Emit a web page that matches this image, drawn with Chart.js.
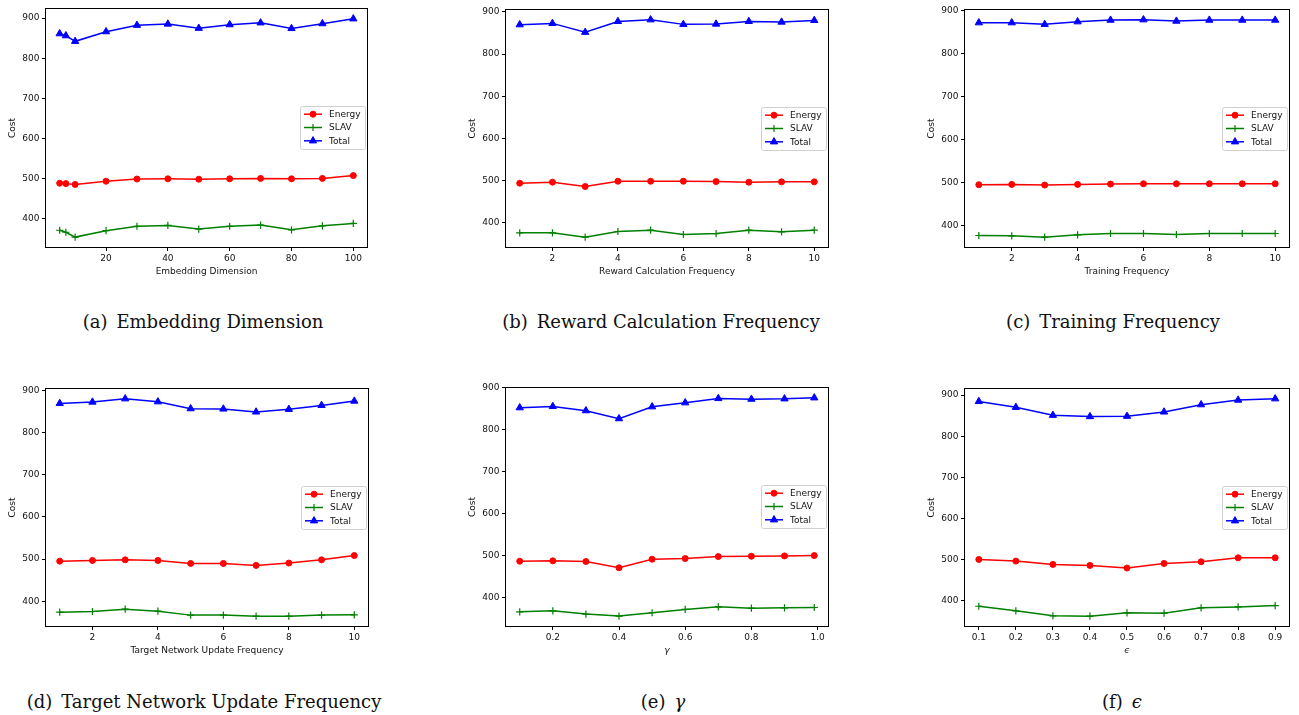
<!DOCTYPE html>
<html><head><meta charset="utf-8">
<script src="https://cdn.jsdelivr.net/npm/chart.js@4.4.1/dist/chart.umd.min.js"></script>
<style>
html,body{margin:0;padding:0;background:#fff;}
body{width:1299px;height:715px;position:relative;overflow:hidden;}
canvas{position:absolute;}
.cap{position:absolute;font-family:'DejaVu Serif',serif;font-size:18px;line-height:20px;white-space:nowrap;color:#111;transform:translateX(-50%);}
.cap i{font-style:italic;}
</style></head><body>
<canvas id="ca"></canvas><canvas id="cb"></canvas><canvas id="cc"></canvas>
<canvas id="cd"></canvas><canvas id="ce"></canvas><canvas id="cf"></canvas>
<div class="cap" style="left:203px;top:312px">(a)&ensp;Embedding Dimension</div>
<div class="cap" style="left:661px;top:312px">(b)&ensp;Reward Calculation Frequency</div>
<div class="cap" style="left:1113px;top:312px">(c)&ensp;Training Frequency</div>
<div class="cap" style="left:204px;top:692px">(d)&ensp;Target Network Update Frequency</div>
<div class="cap" style="left:663px;top:692px">(e)&ensp;<i>γ</i></div>
<div class="cap" style="left:1122px;top:692px">(f)&ensp;<i>ϵ</i></div>
<script>
// ---------------- data ----------------
const seriesNames = ['Energy', 'SLAV', 'Total'];
const costTicks = ['400', '500', '600', '700', '800', '900'];

const embDims   = [5, 7, 10, 20, 30, 40, 50, 60, 70, 80, 90, 100];
const embEnergy = [489, 488, 486, 494, 499.5, 500, 499, 500, 501, 500, 501, 508];
const embSlav   = [372, 367, 355, 371, 382, 384, 375, 382, 385, 373, 383, 389];
const embTotal  = [861, 856, 842, 866, 882, 885, 874.5, 883.5, 888, 874, 886, 898];
const embTicks  = ['20', '40', '60', '80', '100'];

const rewardFreq   = [1, 2, 3, 4, 5, 6, 7, 8, 9, 10];
const rewardEnergy = [494.2, 496.6, 486.4, 498.9, 498.9, 498.9, 498.1, 496.6, 497.4, 497.4];
const rewardSlav   = [376.6, 376.6, 366.5, 379.8, 382.9, 372.7, 375.0, 382.9, 379.0, 382.9];
const rewardTotal  = [869.6, 872.7, 851.7, 877.4, 881.3, 870.4, 871.2, 877.4, 875.9, 879.8];

const trainFreq   = [1, 2, 3, 4, 5, 6, 7, 8, 9, 10];
const trainEnergy = [495.0, 495.8, 494.3, 495.8, 496.5, 497.3, 497.3, 497.3, 497.3, 497.3];
const trainSlav   = [377.0, 376.2, 373.2, 378.6, 381.6, 381.6, 379.3, 381.6, 381.6, 381.6];
const trainTotal  = [871.7, 871.7, 867.9, 874.0, 877.8, 878.6, 875.5, 877.8, 877.8, 877.8];

const targetFreq   = [1, 2, 3, 4, 5, 6, 7, 8, 9, 10];
const targetEnergy = [495.3, 496.9, 498.4, 496.9, 489.8, 489.8, 485.2, 490.6, 498.4, 508.6];
const targetSlav   = [374.2, 375.8, 381.3, 376.6, 367.2, 367.2, 364.8, 364.8, 367.2, 368.0];
const targetTotal  = [869.5, 872.7, 880.5, 873.4, 857.0, 856.3, 849.2, 855.5, 864.8, 875.0];
const freqTicks    = ['2', '4', '6', '8', '10'];

const gammaVals   = [0.1, 0.2, 0.3, 0.4, 0.5, 0.6, 0.7, 0.8, 0.9, 0.99];
const gammaEnergy = [486.6, 487.4, 485.8, 470.9, 491.3, 492.9, 497.6, 498.4, 499.2, 500.0];
const gammaSlav   = [366.1, 368.5, 360.6, 355.9, 363.8, 371.7, 378.0, 374.8, 375.6, 376.4];
const gammaTotal  = [852.0, 855.1, 844.9, 826.0, 854.3, 863.8, 874.0, 872.4, 873.2, 875.6];
const gammaTicks  = ['0.2', '0.4', '0.6', '0.8', '1.0'];

const epsVals   = [0.1, 0.2, 0.3, 0.4, 0.5, 0.6, 0.7, 0.8, 0.9];
const epsEnergy = [500.2, 496.2, 488.1, 485.7, 479.3, 490.5, 494.6, 504.2, 504.2];
const epsSlav   = [386.4, 375.2, 363.1, 362.3, 370.3, 369.6, 382.4, 384.8, 388.0];
const epsTotal  = [884.8, 870.4, 851.1, 847.9, 848.7, 859.1, 876.8, 888.0, 891.2];
const epsTicks  = ['0.1', '0.2', '0.3', '0.4', '0.5', '0.6', '0.7', '0.8', '0.9'];

// ---------------- styling ----------------
const FONT = 'DejaVu Sans';
const TXT = '#111';
const styles = [
  {color: '#ff0000', pointStyle: 'circle',   radius: 3,   bw: 1},
  {color: '#008000', pointStyle: 'cross',    radius: 3.6, bw: 1.2},
  {color: '#0000ff', pointStyle: 'triangle', radius: 4.2, bw: 1}
];

const panels = [
  {id: 'ca', area: [45, 368, 5, 248],   xs: embDims,    ys: [embEnergy, embSlav, embTotal],       ticks: embTicks,   label: 'Embedding Dimension', italic: false},
  {id: 'cb', area: [505, 829, 6, 248],  xs: rewardFreq, ys: [rewardEnergy, rewardSlav, rewardTotal], ticks: freqTicks, label: 'Reward Calculation Frequency', italic: false},
  {id: 'cc', area: [964, 1290, 6, 248], xs: trainFreq,  ys: [trainEnergy, trainSlav, trainTotal],   ticks: freqTicks,  label: 'Training Frequency', italic: false},
  {id: 'cd', area: [45, 369, 385, 627], xs: targetFreq, ys: [targetEnergy, targetSlav, targetTotal], ticks: freqTicks, label: 'Target Network Update Frequency', italic: false},
  {id: 'ce', area: [505, 829, 384, 627], xs: gammaVals, ys: [gammaEnergy, gammaSlav, gammaTotal],   ticks: gammaTicks, label: 'γ', italic: true},
  {id: 'cf', area: [964, 1290, 385, 627], xs: epsVals,  ys: [epsEnergy, epsSlav, epsTotal],         ticks: epsTicks,   label: 'ϵ', italic: true}
];

function drawMarker(ctx, style, x, y) {
  ctx.save();
  ctx.fillStyle = style.color; ctx.strokeStyle = style.color; ctx.lineWidth = style.bw;
  ctx.beginPath();
  const r = style.radius;
  if (style.pointStyle === 'circle') {
    ctx.arc(x, y, r, 0, Math.PI * 2); ctx.fill(); ctx.stroke();
  } else if (style.pointStyle === 'triangle') {
    for (let k = 0; k < 3; k++) {
      const a = k * 2 * Math.PI / 3;
      const px = x + Math.sin(a) * r, py = y - Math.cos(a) * r;
      if (k === 0) ctx.moveTo(px, py); else ctx.lineTo(px, py);
    }
    ctx.closePath(); ctx.fill(); ctx.stroke();
  } else {
    ctx.moveTo(x - r, y); ctx.lineTo(x + r, y);
    ctx.moveTo(x, y - r); ctx.lineTo(x, y + r); ctx.stroke();
  }
  ctx.restore();
}

const framePlugin = {
  id: 'frame',
  afterDraw(chart) {
    const {ctx, chartArea: a} = chart;
    ctx.save();
    ctx.strokeStyle = '#000'; ctx.lineWidth = 1;
    const l = Math.round(a.left) + 0.5, r = Math.round(a.right) - 0.5;
    const t = Math.round(a.top) + 0.5, b = Math.round(a.bottom) - 0.5;
    ctx.strokeRect(l, t, r - l, b - t);
    ctx.restore();
  }
};

const legendPlugin = {
  id: 'mplLegend',
  afterDraw(chart) {
    const {ctx, chartArea: a} = chart;
    const w = 65, h = 43;
    const x0 = Math.round(a.right - 3 - w) + 0.5;
    const y0 = Math.round((a.top + a.bottom) / 2 - h / 2) + 0.5;
    ctx.save();
    ctx.beginPath();
    const rr = 2;
    ctx.moveTo(x0 + rr, y0); ctx.lineTo(x0 + w - rr, y0); ctx.quadraticCurveTo(x0 + w, y0, x0 + w, y0 + rr);
    ctx.lineTo(x0 + w, y0 + h - rr); ctx.quadraticCurveTo(x0 + w, y0 + h, x0 + w - rr, y0 + h);
    ctx.lineTo(x0 + rr, y0 + h); ctx.quadraticCurveTo(x0, y0 + h, x0, y0 + h - rr);
    ctx.lineTo(x0, y0 + rr); ctx.quadraticCurveTo(x0, y0, x0 + rr, y0);
    ctx.closePath();
    ctx.fillStyle = 'rgba(255,255,255,0.85)'; ctx.fill();
    ctx.strokeStyle = '#d0d0d0'; ctx.lineWidth = 1; ctx.stroke();
    seriesNames.forEach((name, i) => {
      const st = styles[i];
      const y = y0 + 7.7 + i * 13.3;
      ctx.strokeStyle = st.color; ctx.lineWidth = 1.5;
      ctx.beginPath(); ctx.moveTo(x0 + 3.5, y); ctx.lineTo(x0 + 21.5, y); ctx.stroke();
      drawMarker(ctx, st, x0 + 12.5, y);
      ctx.fillStyle = TXT; ctx.font = '9px "' + FONT + '"';
      ctx.textAlign = 'left'; ctx.textBaseline = 'middle';
      ctx.fillText(name, x0 + 28.5, y + 0.5);
    });
    ctx.restore();
  }
};

function padRange(vals) {
  const mn = Math.min(...vals), mx = Math.max(...vals), d = mx - mn;
  return [mn - 0.05 * d, mx + 0.05 * d];
}

panels.forEach(p => {
  const [L, R, T, B] = p.area;
  const yAxisW = 45, xAxisH = 37, padTop = 5, padRight = 6;
  const cv = document.getElementById(p.id);
  const left = L - yAxisW, top = T - padTop;
  cv.width = R - left + padRight; cv.height = B + xAxisH - top;
  cv.style.left = left + 'px'; cv.style.top = top + 'px';

  const [xMin, xMax] = padRange(p.xs);
  const [yMin, yMax] = padRange([].concat(...p.ys));
  const xTickVals = p.ticks.map(parseFloat);
  const yTickVals = costTicks.map(parseFloat);

  const datasets = p.ys.map((vals, i) => ({
    label: seriesNames[i],
    data: p.xs.map((x, j) => ({x: x, y: vals[j]})),
    borderColor: styles[i].color, backgroundColor: styles[i].color,
    borderWidth: 1.5, tension: 0, fill: false,
    pointStyle: styles[i].pointStyle, pointRadius: styles[i].radius,
    pointBorderWidth: styles[i].bw, pointBackgroundColor: styles[i].color, pointBorderColor: styles[i].color,
    pointHoverRadius: styles[i].radius
  }));

  const tickFont = {family: FONT, size: 9};
  new Chart(cv, {
    type: 'line',
    data: {datasets},
    plugins: [framePlugin, legendPlugin],
    options: {
      responsive: false, animation: false, devicePixelRatio: 1,
      layout: {padding: {top: padTop, right: padRight, left: 0, bottom: 0}},
      plugins: {legend: {display: false}, tooltip: {enabled: false}},
      scales: {
        x: {
          type: 'linear', min: xMin, max: xMax,
          border: {display: false},
          grid: {drawOnChartArea: false, drawTicks: true, tickLength: 3, color: '#000', lineWidth: 1},
          ticks: {font: tickFont, color: TXT, padding: 2.5, maxRotation: 0, autoSkip: false,
                  callback: (v, idx) => p.ticks[idx]},
          afterBuildTicks: s => { s.ticks = xTickVals.map(v => ({value: v})); },
          afterFit: s => { s.height = xAxisH; },
          title: {display: true, text: p.label, color: TXT,
                  font: {family: FONT, size: 9, style: p.italic ? 'italic' : 'normal'},
                  padding: {top: 0, bottom: 7.9}}
        },
        y: {
          type: 'linear', min: yMin, max: yMax,
          border: {display: false},
          grid: {drawOnChartArea: false, drawTicks: true, tickLength: 3, color: '#000', lineWidth: 1},
          ticks: {font: tickFont, color: TXT, padding: 2.5, autoSkip: false,
                  callback: (v, idx) => costTicks[idx]},
          afterBuildTicks: s => { s.ticks = yTickVals.map(v => ({value: v})); },
          afterFit: s => { s.width = yAxisW; },
          title: {display: true, text: 'Cost', color: TXT, font: {family: FONT, size: 9},
                  padding: {top: 7.6, bottom: 0}}
        }
      }
    }
  });
});
</script>
</body></html>
